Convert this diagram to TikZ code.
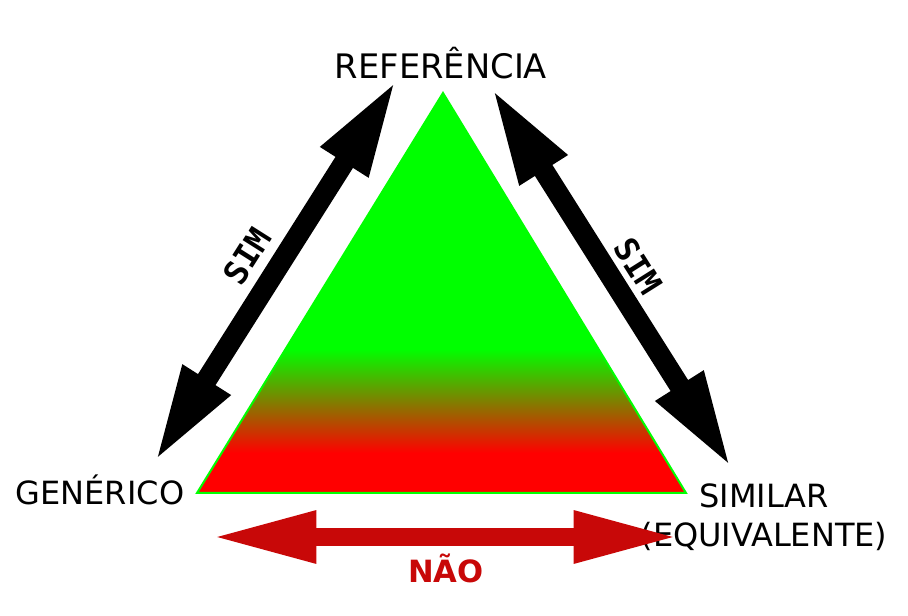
\documentclass[tikz,border=0pt]{standalone}
\usepackage{fontspec}
\setmainfont{DejaVu Sans}
\setmonofont{DejaVu Sans Mono}
\usepackage{xcolor}
\definecolor{triGreen}{RGB}{0,255,0}
\definecolor{triRed}{RGB}{255,0,0}
\definecolor{naoRed}{HTML}{C80808}
\usetikzlibrary{arrows.meta}
\pgfdeclareverticalshading{triShade}{100bp}{color(0bp)=(triRed); color(30bp)=(triRed); color(43bp)=(triGreen); color(100bp)=(triGreen)}

\begin{document}
\begin{tikzpicture}[x=0.75pt, y=-0.75pt,
    cornerlabel/.style={font=\fontsize{24}{29}\selectfont, inner sep=0pt},
    simlabel/.style={font=\ttfamily\bfseries\fontsize{24.5}{29}\selectfont, inner sep=0pt},
    simarrow/.style={line width=15.5pt, {Triangle[length=74pt, width=38pt]}-{Triangle[length=74pt, width=38pt]}},
    naoarrow/.style={naoRed, line width=13.5pt, {Triangle[length=79pt, width=36pt]}-{Triangle[length=79pt, width=36pt]}},
]
    \useasboundingbox (0,0) rectangle (908,616);

    % --- Triangle (green to red) ---
    \coordinate (apex) at (443,93);
    \coordinate (baseL) at (197,493);
    \coordinate (baseR) at (686,493);
    \shadedraw[shading=triShade, draw=triGreen, line width=1.5pt, line join=miter] (apex) -- (baseL) -- (baseR) -- cycle;

    % --- Corner labels ---
    \node[cornerlabel, font=\fontsize{25.3}{30}\selectfont, anchor=base] (ref) at (441,79) {REFERÊNCIA};
    \node[cornerlabel, anchor=base] (gen) at (100,505) {GENÉRICO};
    \node[cornerlabel, align=center] (sim) at (764,517) {SIMILAR\\(EQUIVALENTE)};

    % --- SIM arrows ---
    \coordinate (simLlow) at (154,463);
    \coordinate (simLtop) at (397,79);
    \draw[simarrow] (simLlow) -- (simLtop);
    \node[simlabel, rotate=57.7] (simL) at (247,256) {SIM};

    \coordinate (simRtop) at (491,87);
    \coordinate (simRlow) at (732,469);
    \draw[simarrow] (simRtop) -- (simRlow);
    \node[simlabel, rotate=-57.8] (simR) at (638,266) {SIM};

    % --- NAO arrow ---
    \coordinate (naoL) at (211,537);
    \coordinate (naoR) at (679,537);
    \draw[naoarrow] (naoL) -- (naoR);
    \node[naoRed, font=\bfseries\fontsize{23}{28}\selectfont, inner sep=0pt, anchor=base] (nao) at (446,583) {NÃO};

\end{tikzpicture}
\end{document}
